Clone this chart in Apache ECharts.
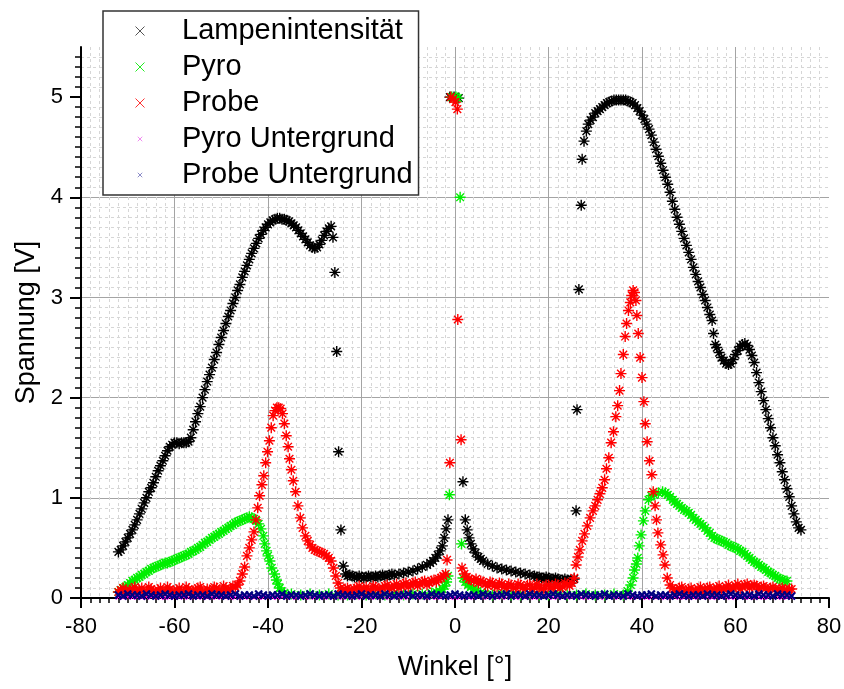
<!DOCTYPE html>
<html>
<head>
<meta charset="utf-8">
<script src="https://cdn.jsdelivr.net/npm/echarts@6/dist/echarts.min.js"></script>
<style>
  html, body { margin: 0; padding: 0; background: #fff; }
  #chart { width: 844px; height: 689px; }
</style>
</head>
<body>
<div id="chart"></div>
<script>
const FONT = '"Liberation Sans", Arial, sans-serif';

// Lampenintensität [Winkel, Spannung]
const lampe = [
  [-72,0.46],[-71.5,0.48],[-71,0.52],[-70.5,0.56],[-70,0.6],[-69.5,0.64],[-69,0.68],[-68.5,0.73],[-68,0.78],[-67.5,0.84],
  [-67,0.89],[-66.5,0.95],[-66,1.0],[-65.5,1.06],[-65,1.1],[-64.5,1.15],[-64,1.21],[-63.5,1.27],[-63,1.32],[-62.5,1.37],
  [-62,1.42],[-61.5,1.47],[-61,1.51],[-60.5,1.53],[-60,1.55],[-59.5,1.55],[-59,1.54],[-58.5,1.55],[-58,1.55],[-57.5,1.55],
  [-57,1.56],[-56.5,1.6],[-56,1.68],[-55.5,1.76],[-55,1.84],[-54.5,1.91],[-54,2.0],[-53.5,2.08],[-53,2.16],[-52.5,2.23],
  [-52,2.3],[-51.5,2.38],[-51,2.45],[-50.5,2.53],[-50,2.6],[-49.5,2.67],[-49,2.74],[-48.5,2.81],[-48,2.87],[-47.5,2.94],
  [-47,3.0],[-46.5,3.07],[-46,3.13],[-45.5,3.2],[-45,3.26],[-44.5,3.32],[-44,3.38],[-43.5,3.44],[-43,3.49],[-42.5,3.54],
  [-42,3.59],[-41.5,3.63],[-41,3.67],[-40.5,3.7],[-40,3.73],[-39.5,3.75],[-39,3.77],[-38.5,3.78],[-38,3.79],[-37.5,3.79],
  [-37,3.78],[-36.5,3.78],[-36,3.77],[-35.5,3.76],[-35,3.74],[-34.5,3.72],[-34,3.7],[-33.5,3.67],[-33,3.64],[-32.5,3.61],
  [-32,3.58],[-31.5,3.55],[-31,3.52],[-30.5,3.5],[-30,3.49],[-29.5,3.5],[-29,3.53],[-28.5,3.57],[-28,3.62],[-27.5,3.66],
  [-27,3.69],[-26.5,3.71],[-26.1,3.6],[-25.7,3.25],[-25.3,2.46],[-24.9,1.46],[-24.4,0.68],[-23.9,0.32],[-23.4,0.24],[-23,0.22],
  [-22.5,0.23],[-22,0.22],[-21.5,0.21],[-21,0.21],[-20.5,0.22],[-20,0.21],[-19.5,0.2],[-19,0.21],[-18.5,0.22],[-18,0.21],
  [-17.5,0.21],[-17,0.22],[-16.5,0.21],[-16,0.22],[-15.5,0.23],[-15,0.22],[-14.5,0.22],[-14,0.23],[-13.5,0.24],[-13,0.23],
  [-12,0.24],[-11,0.25],[-10,0.26],[-9,0.27],[-8,0.29],[-7,0.31],[-6,0.33],[-5.3,0.35],[-4.7,0.37],[-4.2,0.4],
  [-3.7,0.43],[-3.2,0.47],[-2.7,0.52],[-2.3,0.6],[-1.9,0.69],[-1.5,0.78],[-1.1,5.0],[-0.2,5.0],[0.8,4.99],[1.7,1.16],
  [2.2,0.78],[2.6,0.68],[3.0,0.6],[3.4,0.54],[3.9,0.49],[4.4,0.45],[5,0.41],[5.5,0.39],[6,0.37],[7,0.34],
  [8,0.32],[9,0.3],[10,0.29],[11,0.28],[12,0.27],[13,0.26],[14,0.25],[15,0.24],[16,0.23],[17,0.22],
  [17.5,0.21],[18,0.21],[18.5,0.2],[19,0.2],[19.5,0.21],[20,0.2],[20.5,0.19],[21,0.19],[21.5,0.2],[22,0.19],
  [22.5,0.18],[23,0.18],[23.5,0.19],[24,0.18],[24.5,0.17],[25,0.18],[25.5,0.19],[25.9,0.87],
  [26.1,1.88],[26.5,3.08],[27.0,3.92],[27.2,4.38],[27.6,4.56],[28.1,4.66],[28.5,4.73],[29,4.77],[29.5,4.8],[30,4.84],
  [30.5,4.86],[31,4.88],[31.5,4.9],[32,4.92],[32.5,4.94],[33,4.95],[33.5,4.96],[34,4.97],[34.5,4.97],[35,4.97],
  [35.5,4.97],[36,4.97],[36.5,4.97],[37,4.96],[37.5,4.95],[38,4.94],[38.5,4.92],[39,4.89],[39.5,4.86],[40,4.82],
  [40.5,4.78],[41,4.73],[41.5,4.68],[42,4.62],[42.5,4.55],[43,4.48],[43.5,4.41],[44,4.34],[44.5,4.27],[45,4.2],
  [45.5,4.13],[46,4.05],[46.5,3.96],[47,3.88],[47.5,3.8],[48,3.73],[48.5,3.66],[49,3.59],[49.5,3.52],[50,3.45],
  [50.5,3.38],[51,3.3],[51.5,3.23],[52,3.16],[52.5,3.1],[53,3.03],[53.5,2.97],[54,2.9],[54.5,2.83],[55,2.77],
  [55.3,2.64],[55.7,2.53],[56,2.5],[56.5,2.45],[57,2.4],[57.5,2.37],[58,2.34],[58.5,2.33],[59,2.34],[59.5,2.38],
  [60,2.43],[60.5,2.47],[61,2.51],[61.5,2.53],[62,2.54],[62.5,2.52],[63,2.48],[63.5,2.42],[64,2.35],[64.5,2.25],
  [65,2.15],[65.5,2.06],[66,1.97],[66.5,1.88],[67,1.79],[67.5,1.7],[68,1.6],[68.5,1.52],[69,1.43],[69.5,1.35],
  [70,1.26],[70.5,1.18],[71,1.09],[71.5,1.01],[72,0.92],[72.5,0.84],[73,0.76],[73.5,0.7],[74,0.68]
];

// Pyro
const pyro = [
  [-72,0.06],[-71.5,0.08],[-71,0.1],[-70.5,0.11],[-70,0.13],[-69.5,0.15],[-69,0.17],[-68.5,0.18],[-68,0.2],[-67.5,0.21],
  [-67,0.23],[-66.5,0.24],[-66,0.26],[-65.5,0.27],[-65,0.29],[-64.5,0.3],[-64,0.31],[-63.5,0.32],[-63,0.33],[-62.5,0.34],
  [-62,0.35],[-61.5,0.35],[-61,0.36],[-60.5,0.37],[-60,0.38],[-59.5,0.39],[-59,0.4],[-58.5,0.41],[-58,0.42],[-57.5,0.43],
  [-57,0.44],[-56.5,0.46],[-56,0.47],[-55.5,0.48],[-55,0.5],[-54.5,0.51],[-54,0.53],[-53.5,0.55],[-53,0.56],[-52.5,0.58],
  [-52,0.6],[-51.5,0.61],[-51,0.63],[-50.5,0.64],[-50,0.66],[-49.5,0.67],[-49,0.69],[-48.5,0.7],[-48,0.72],[-47.5,0.73],
  [-47,0.75],[-46.5,0.76],[-46,0.77],[-45.5,0.78],[-45,0.79],[-44.5,0.8],[-44,0.81],[-43.5,0.8],[-43,0.79],[-42.5,0.77],
  [-42,0.74],[-41.5,0.69],[-41,0.62],[-40.7,0.54],[-40.3,0.47],[-40,0.42],[-39.6,0.37],[-39.2,0.3],[-38.6,0.24],[-38.2,0.18],
  [-37.9,0.14],[-37.5,0.1],[-37.1,0.07],[-36.5,0.05],[-35,0.04],[-33,0.03],[-31,0.04],[-29,0.03],[-27,0.04],[-25,0.03],
  [-23,0.03],[-21,0.04],[-19,0.03],[-17,0.04],[-15,0.03],[-13,0.04],[-11,0.03],[-9,0.04],[-7,0.04],[-5,0.05],
  [-4,0.06],[-3.3,0.07],[-2.7,0.09],[-2.2,0.12],[-1.8,0.16],[-1.5,0.22],[-1.2,1.03],[-0.7,5.0],[0.2,5.0],[0.6,4.99],
  [1.1,4.0],[1.4,0.54],[1.7,0.2],[2.2,0.16],[2.8,0.13],[3.4,0.11],[4,0.09],[4.7,0.07],[5.5,0.05],[6.5,0.04],
  [8,0.03],[10,0.04],[12,0.03],[14,0.03],[16,0.04],[18,0.03],[20,0.03],[22,0.04],[24,0.03],[26,0.03],
  [28,0.04],[30,0.03],[32,0.03],[34,0.04],[36,0.03],[36.9,0.07],[37.6,0.13],[38.1,0.2],[38.4,0.28],[38.8,0.34],
  [39.1,0.4],[39.4,0.52],[39.8,0.63],[40.3,0.77],[40.7,0.87],[41.4,0.98],[42,1.02],[42.6,1.03],[43.5,1.05],[44.4,1.06],
  [45,1.05],[45.5,1.03],[46,1.01],[46.6,0.98],[47,0.96],[47.5,0.94],[48,0.92],[48.5,0.9],[49,0.88],[49.5,0.87],
  [50,0.85],[50.5,0.83],[51,0.8],[51.5,0.78],[52,0.76],[52.5,0.74],[53,0.72],[53.5,0.7],[54,0.67],[54.5,0.65],
  [55,0.62],[55.5,0.6],[56,0.59],[56.5,0.58],[57,0.57],[57.5,0.56],[58,0.55],[58.5,0.53],[59,0.52],[59.5,0.51],
  [60,0.5],[60.5,0.49],[61,0.47],[61.5,0.46],[62,0.44],[62.5,0.42],[63,0.4],[63.5,0.38],[64,0.36],[64.5,0.35],
  [65,0.33],[65.5,0.31],[66,0.3],[66.5,0.28],[67,0.26],[67.5,0.25],[68,0.23],[68.5,0.22],[69,0.2],[69.5,0.19],
  [70,0.18],[70.5,0.17],[71,0.17]
];

// Probe
const probe = [
  [-72,0.06],[-71.5,0.08],[-71,0.1],[-70.5,0.07],[-70,0.05],[-69.5,0.08],[-69,0.09],[-68.5,0.11],[-68,0.06],[-67.5,0.08],
  [-67,0.1],[-66.5,0.05],[-66,0.07],[-65.5,0.11],[-65,0.09],[-64.5,0.07],[-64,0.05],[-63.5,0.08],[-63,0.1],[-62.5,0.06],
  [-62,0.07],[-61.5,0.11],[-61,0.09],[-60.5,0.05],[-60,0.06],[-59.5,0.08],[-59,0.1],[-58.5,0.07],[-58,0.06],[-57.5,0.11],
  [-57,0.09],[-56.5,0.05],[-56,0.07],[-55.5,0.08],[-55,0.1],[-54.5,0.11],[-54,0.06],[-53.5,0.05],[-53,0.09],[-52.5,0.08],
  [-52,0.07],[-51.5,0.11],[-51,0.1],[-50.5,0.06],[-50,0.07],[-49.5,0.12],[-49,0.1],[-48.5,0.07],[-48,0.09],[-47.5,0.12],
  [-47,0.11],[-46.5,0.13],[-46,0.17],[-45.5,0.24],[-45,0.31],
  [-44.5,0.42],[-44,0.5],[-43.5,0.58],[-43,0.66],[-42.6,0.78],[-42.2,0.9],[-41.8,1.02],[-41.3,1.13],[-40.9,1.22],[-40.5,1.35],
  [-40.1,1.46],[-39.7,1.57],[-39.3,1.7],[-38.9,1.82],[-38.5,1.87],[-38.1,1.9],[-37.7,1.9],[-37.3,1.89],[-36.9,1.84],[-36.5,1.74],
  [-36.1,1.62],[-35.7,1.51],[-35.4,1.39],[-35,1.28],[-34.6,1.17],[-34.1,1.06],[-33.6,0.92],[-33.1,0.8],[-32.6,0.7],[-32,0.62],
  [-31.5,0.57],[-31,0.53],[-30.5,0.5],[-30,0.48],[-29.5,0.47],[-29,0.46],[-28.5,0.45],[-28,0.44],[-27.5,0.42],[-27,0.4],
  [-26.5,0.37],[-26,0.3],[-25.5,0.22],[-25,0.15],[-24.5,0.1],[-24,0.07],[-23.5,0.09],[-23,0.1],[-22.5,0.08],[-22,0.06],
  [-21.5,0.09],[-21,0.1],[-20.5,0.12],[-20,0.07],[-19.5,0.09],[-19,0.11],[-18.5,0.07],[-18,0.08],[-17.5,0.12],[-17,0.11],
  [-16.5,0.09],[-16,0.08],[-15.5,0.1],[-15,0.12],[-14.5,0.13],[-14,0.09],[-13.5,0.1],[-13,0.12],[-12.5,0.14],[-12,0.1],
  [-11.5,0.12],[-11,0.14],[-10.5,0.15],[-10,0.11],[-9.5,0.13],[-9,0.15],[-8.5,0.16],[-8,0.12],[-7.5,0.14],[-7,0.16],
  [-6.5,0.17],[-6,0.13],[-5.5,0.15],[-5,0.17],[-4.5,0.18],[-4,0.16],[-3.5,0.19],[-3,0.2],[-2.5,0.22],[-2,0.24],
  [-1.7,0.38],[-1.1,1.35],[-0.9,5.0],[-0.4,4.98],[0.1,4.95],[0.5,4.88],[0.6,2.78],[1.3,1.58],[1.5,0.3],[2,0.24],
  [2.5,0.21],[3,0.19],[3.5,0.18],[4,0.17],[4.5,0.19],[5,0.15],[5.5,0.17],[6,0.16],[6.5,0.14],[7,0.12],
  [7.5,0.16],[8,0.15],[8.5,0.12],[9,0.11],[9.5,0.15],[10,0.14],[10.5,0.11],[11,0.1],[11.5,0.14],[12,0.13],
  [12.5,0.1],[13,0.1],[13.5,0.14],[14,0.13],[14.5,0.1],[15,0.09],[15.5,0.13],[16,0.13],[16.5,0.09],[17,0.1],
  [17.5,0.14],[18,0.12],[18.5,0.09],[19,0.09],[19.5,0.13],[20,0.13],[20.5,0.1],[21,0.1],[21.5,0.14],[22,0.13],
  [22.5,0.1],[23,0.11],[23.5,0.15],[24,0.14],[24.5,0.12],[25,0.15],[25.5,0.2],[25.9,0.33],[26.3,0.41],[26.7,0.48],[27.2,0.57],
  [27.7,0.64],[28.3,0.72],[28.9,0.8],[29.5,0.87],[30,0.92],[30.5,0.98],[31,1.04],[31.5,1.1],[32,1.18],[32.4,1.29],
  [32.9,1.4],[33.4,1.55],[33.9,1.66],[34.4,1.81],[34.8,1.92],[35.2,2.07],[35.5,2.24],[36,2.43],[36.4,2.61],[36.7,2.74],
  [37.1,2.87],[37.5,2.95],[37.8,3.02],[38.1,3.07],[38.4,3.05],[38.7,2.97],[38.9,2.82],[39.2,2.64],[39.6,2.4],[40,2.2],
  [40.4,1.96],[40.7,1.74],[41.1,1.56],[41.6,1.37],[42.1,1.23],[42.4,1.06],[42.8,0.92],[43.1,0.78],[43.4,0.65],[44,0.53],
  [44.5,0.43],[44.9,0.33],[45.4,0.2],[46,0.13],[46.5,0.1],[47,0.06],[47.5,0.08],[48,0.1],[48.5,0.11],[49,0.06],
  [49.5,0.07],[50,0.09],[50.5,0.1],[51,0.05],[51.5,0.07],[52,0.09],[52.5,0.11],[53,0.06],[53.5,0.08],[54,0.1],
  [54.5,0.11],[55,0.06],[55.5,0.08],[56,0.1],[56.5,0.12],[57,0.07],[57.5,0.09],[58,0.11],[58.5,0.13],[59,0.08],
  [59.5,0.1],[60,0.12],[60.5,0.14],[61,0.09],[61.5,0.11],[62,0.13],[62.5,0.14],[63,0.1],[63.5,0.12],[64,0.13],
  [64.5,0.12],[65,0.09],[65.5,0.11],[66,0.12],[66.5,0.1],[67,0.08],[67.5,0.1],[68,0.11],[68.5,0.09],[69,0.07],
  [69.5,0.09],[70,0.1],[70.5,0.08],[71,0.07],[71.5,0.09],[72,0.09]
];

// Untergrund: gemeinsame Winkel
const bgAngle = [
  -72,-71,-70,-69,-68,-67,-66,-65,-64,-63,-62,-61,-60,-59,-58,
  -57,-56,-55,-54,-53,-52,-51,-50,-49,-48,-47,-46,-45,-44,-43,
  -42,-41,-40,-39,-38,-37,-36,-35,-34,-33,-32,-31,-30,-29,-28,
  -27,-26,-25,-24,-23,-22,-21,-20,-19,-18,-17,-16,-15,-14,-13,
  -12,-11,-10,-9,-8,-7,-6,-5,-4,-3,-2,-1,0,1,2,
  3,4,5,6,7,8,9,10,11,12,13,14,15,16,17,
  18,19,20,21,22,23,24,25,26,27,28,29,30,31,32,
  33,34,35,36,37,38,39,40,41,42,43,44,45,46,47,
  48,49,50,51,52,53,54,55,56,57,58,59,60,61,62,
  63,64,65,66,67,68,69,70,71,72
];
const pyroBg = [
  0.006,0.004,0.008,0.005,0.007,0.004,0.006,0.009,0.005,0.006,0.004,0.007,0.005,0.006,0.008,
  0.004,0.006,0.005,0.007,0.004,0.006,0.008,0.005,0.006,0.004,0.007,0.005,0.006,0.009,0.004,
  0.006,0.005,0.007,0.004,0.006,0.008,0.005,0.006,0.004,0.007,0.005,0.006,0.008,0.004,0.006,
  0.005,0.007,0.004,0.006,0.009,0.005,0.006,0.004,0.007,0.005,0.006,0.008,0.004,0.006,0.005,
  0.007,0.004,0.006,0.008,0.005,0.006,0.004,0.007,0.005,0.006,0.008,0.004,0.006,0.005,0.007,
  0.004,0.006,0.009,0.005,0.006,0.004,0.007,0.005,0.006,0.008,0.004,0.006,0.005,0.007,0.004,
  0.006,0.008,0.005,0.006,0.004,0.007,0.005,0.006,0.009,0.004,0.006,0.005,0.007,0.004,0.006,
  0.008,0.005,0.006,0.004,0.007,0.005,0.006,0.008,0.004,0.006,0.005,0.007,0.004,0.006,0.009,
  0.005,0.006,0.004,0.007,0.005,0.006,0.008,0.004,0.006,0.005,0.007,0.004,0.006,0.008,0.005,
  0.006,0.004,0.007,0.005,0.006,0.008,0.004,0.006,0.005,0.006
];
const probeBg = [
  0.03,0.02,0.04,0.03,0.03,0.02,0.04,0.03,0.02,0.03,0.04,0.03,0.02,0.03,0.03,
  0.04,0.02,0.03,0.03,0.02,0.04,0.03,0.03,0.02,0.03,0.04,0.02,0.03,0.03,0.02,
  0.04,0.03,0.02,0.03,0.03,0.04,0.02,0.03,0.03,0.02,0.03,0.04,0.03,0.02,0.03,
  0.03,0.02,0.04,0.03,0.03,0.02,0.03,0.04,0.02,0.03,0.03,0.02,0.04,0.03,0.02,
  0.03,0.03,0.04,0.02,0.03,0.03,0.02,0.04,0.03,0.03,0.02,0.03,0.04,0.03,0.02,
  0.03,0.03,0.02,0.04,0.03,0.02,0.03,0.03,0.04,0.02,0.03,0.03,0.02,0.04,0.03,
  0.03,0.02,0.03,0.04,0.03,0.02,0.03,0.03,0.02,0.04,0.03,0.03,0.02,0.03,0.04,
  0.02,0.03,0.03,0.02,0.04,0.03,0.02,0.03,0.03,0.04,0.02,0.03,0.03,0.02,0.03,
  0.04,0.03,0.02,0.03,0.03,0.02,0.04,0.03,0.03,0.02,0.03,0.04,0.03,0.02,0.03,
  0.03,0.02,0.04,0.03,0.03,0.02,0.04,0.03,0.03,0.02
];

const yTicks = [0, 1, 2, 3, 4, 5];

const STAR = 'path://M5,0L5,10M0,5L10,5M1.5,1.5L8.5,8.5M8.5,1.5L1.5,8.5';
const CROSS = 'path://M0,0L10,10M10,0L0,10';
const SMALL_CROSS = 'path://M0,0M2.5,2.5L7.5,7.5M7.5,2.5L2.5,7.5M10,10';

function scatter(name, data, color, symbol, size, width) {
  return {
    name,
    type: 'scatter',
    data,
    symbol,
    symbolSize: size,
    silent: true,
    itemStyle: { color: 'none', borderColor: color, borderWidth: width, opacity: 1 },
    emphasis: { disabled: true },
  };
}

function legendItem(name, icon, color) {
  return { name, icon, itemStyle: { color: 'none', borderColor: color, borderWidth: 1, opacity: 1 } };
}

const chart = echarts.init(document.getElementById('chart'), null, { renderer: 'canvas' });

chart.setOption({
  animation: false,
  backgroundColor: '#fff',
  textStyle: { fontFamily: FONT },
  grid: { left: 81, right: 15, top: 47, bottom: 91, outerBoundsMode: 'none' },
  legend: {
    orient: 'vertical',
    left: 103,
    top: 11,
    padding: [5, 6, 5, 30],
    itemWidth: 74,
    itemHeight: 9,
    itemGap: 6,
    backgroundColor: '#fff',
    borderColor: '#333',
    borderWidth: 1.5,
    borderRadius: 0,
    textStyle: { fontSize: 29, lineHeight: 30, color: '#000', fontFamily: FONT },
    data: [
      legendItem('Lampenintensität', CROSS, '#555'),
      legendItem('Pyro', CROSS, '#22ee22'),
      legendItem('Probe', CROSS, '#ff3030'),
      legendItem('Pyro Untergrund', SMALL_CROSS, '#f08cf0'),
      legendItem('Probe Untergrund', SMALL_CROSS, '#8c8cc8'),
    ],
  },
  xAxis: {
    type: 'value',
    min: -80,
    max: 80,
    interval: 20,
    name: 'Winkel [°]',
    nameLocation: 'middle',
    nameGap: 56,
    nameTextStyle: { fontSize: 27, color: '#000', fontFamily: FONT },
    axisLine: { show: true, onZero: false, lineStyle: { color: '#000', width: 2 } },
    axisTick: { show: true, length: 10, lineStyle: { color: '#000', width: 2 } },
    minorTick: { show: true, splitNumber: 10, length: 5, lineStyle: { color: '#000', width: 1.5 } },
    axisLabel: { fontSize: 22, color: '#000', margin: 18, fontFamily: FONT },
    splitLine: { show: true, showMaxLine: false, lineStyle: { color: '#a4a4a4', width: 1 } },
    minorSplitLine: { show: true, lineStyle: { color: '#d6d6d6', width: 1, type: [3, 3] } },
  },
  yAxis: {
    type: 'value',
    min: 0,
    max: 5.5,
    interval: 1,
    name: 'Spannung [V]',
    nameLocation: 'middle',
    nameGap: 33,
    nameTextStyle: { fontSize: 27, color: '#000', fontFamily: FONT },
    axisLine: { show: true, onZero: false, lineStyle: { color: '#000', width: 2 } },
    axisTick: { show: true, length: 11, customValues: yTicks, lineStyle: { color: '#000', width: 2 } },
    minorTick: { show: true, splitNumber: 10, length: 6, lineStyle: { color: '#000', width: 1.5 } },
    axisLabel: { fontSize: 22, color: '#000', margin: 18, showMaxLabel: false, fontFamily: FONT },
    splitLine: { show: true, showMaxLine: false, lineStyle: { color: '#a4a4a4', width: 1 } },
    minorSplitLine: { show: true, lineStyle: { color: '#d6d6d6', width: 1, type: [3, 3] } },
  },
  series: [
    scatter('Lampenintensität', lampe, '#000000', STAR, 11, 1.4),
    scatter('Pyro', pyro, '#00ee00', STAR, 11, 1.4),
    scatter('Probe', probe, '#ff0000', STAR, 11, 1.4),
    scatter('Pyro Untergrund', bgAngle.map((a, i) => [a, pyroBg[i]]), '#ff00ff', CROSS, 5, 1),
    scatter('Probe Untergrund', bgAngle.map((a, i) => [a, probeBg[i]]), '#000080', CROSS, 7, 2.2),
  ],
});
</script>
</body>
</html>
